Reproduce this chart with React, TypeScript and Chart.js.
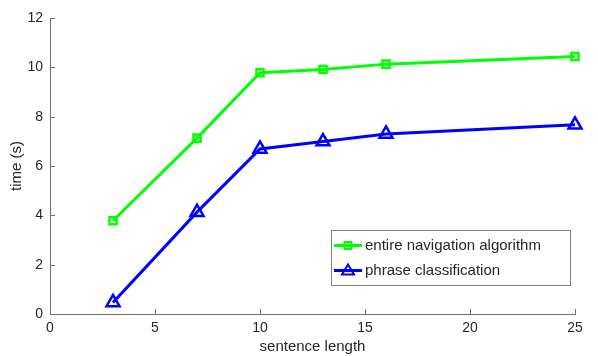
import React, { useEffect, useRef } from "react";
import { Chart, registerables } from "chart.js";

Chart.register(...registerables);

const xValues = [3, 7, 10, 13, 16, 25];
const navTimes = [3.78, 7.13, 9.78, 9.91, 10.13, 10.44];
const phraseTimes = [0.47, 4.13, 6.69, 6.99, 7.3, 7.67];
const seriesLabels = ["entire navigation algorithm", "phrase classification"];
const xTitle = "sentence length";
const yTitle = "time (s)";

const GREEN = "#00ff00";
const BLUE = "#0000ff";
const AXIS = "#707070";
const TEXT = "#262626";
const FONT = "'Liberation Sans', Arial, Helvetica, sans-serif";

const inwardTicks = {
  id: "inwardTicks",
  afterDraw(chart: any) {
    const ctx = chart.ctx;
    const xs = chart.scales.x;
    const ys = chart.scales.y;
    const area = chart.chartArea;
    ctx.save();
    ctx.strokeStyle = AXIS;
    ctx.lineWidth = 1;
    ctx.beginPath();
    xs.ticks.forEach((t: any) => {
      const px = Math.round(xs.getPixelForValue(t.value)) + 0.5;
      ctx.moveTo(px, area.bottom);
      ctx.lineTo(px, area.bottom - 5);
    });
    ys.ticks.forEach((t: any) => {
      const py = Math.round(ys.getPixelForValue(t.value)) + 0.5;
      ctx.moveTo(area.left, py);
      ctx.lineTo(area.left + 5, py);
    });
    ctx.stroke();
    ctx.restore();
  },
};

const customLegend = {
  id: "customLegend",
  afterDraw(chart: any) {
    const ctx = chart.ctx;
    const bx = 331, by = 230, bw = 239, bh = 55;
    ctx.save();
    ctx.fillStyle = "#ffffff";
    ctx.fillRect(bx, by, bw, bh);
    ctx.strokeStyle = "#808080";
    ctx.lineWidth = 1;
    ctx.strokeRect(bx + 0.5, by + 0.5, bw, bh);
    const rows = [
      { y: 245.5, color: GREEN, style: "rect", label: seriesLabels[0] },
      { y: 270.5, color: BLUE, style: "triangle", label: seriesLabels[1] },
    ];
    rows.forEach((r) => {
      ctx.strokeStyle = r.color;
      ctx.lineWidth = 3;
      ctx.beginPath();
      ctx.moveTo(334, r.y);
      ctx.lineTo(362, r.y);
      ctx.stroke();
      const cx = 348;
      ctx.lineWidth = 2;
      ctx.beginPath();
      if (r.style === "rect") {
        ctx.rect(cx - 3.5, r.y - 3.5, 7, 7);
      } else {
        ctx.moveTo(cx, r.y - 6);
        ctx.lineTo(cx + 6, r.y + 4);
        ctx.lineTo(cx - 6, r.y + 4);
        ctx.closePath();
      }
      ctx.stroke();
      ctx.fillStyle = TEXT;
      ctx.font = `15px ${FONT}`;
      ctx.textBaseline = "middle";
      ctx.textAlign = "left";
      ctx.fillText(r.label, 365, r.y);
    });
    ctx.restore();
  },
};

export default function App() {
  const ref = useRef<HTMLCanvasElement>(null);
  useEffect(() => {
    if (!ref.current) return;
    const chart = new Chart(ref.current, {
      type: "line",
      data: {
        datasets: [
          {
            label: seriesLabels[0],
            data: xValues.map((x, i) => ({ x, y: navTimes[i] })),
            borderColor: GREEN,
            backgroundColor: "transparent",
            borderWidth: 3,
            pointStyle: "rect",
            pointRadius: 5,
            pointBorderWidth: 2.5,
            pointBorderColor: GREEN,
            pointBackgroundColor: "transparent",
            clip: false as any,
          },
          {
            label: seriesLabels[1],
            data: xValues.map((x, i) => ({ x, y: phraseTimes[i] })),
            borderColor: BLUE,
            backgroundColor: "transparent",
            borderWidth: 3,
            pointStyle: "triangle",
            pointRadius: 7.5,
            pointBorderWidth: 2.5,
            pointBorderColor: BLUE,
            pointBackgroundColor: "transparent",
            clip: false as any,
          },
        ],
      },
      options: {
        responsive: false,
        animation: false,
        layout: { padding: { left: 0, top: 18, right: 23, bottom: 0 } },
        plugins: {
          legend: { display: false },
          tooltip: { enabled: false },
        },
        scales: {
          x: {
            type: "linear",
            min: 0,
            max: 25,
            afterFit: (s: any) => {
              s.height = 42;
            },
            ticks: {
              stepSize: 5,
              color: TEXT,
              font: { family: FONT, size: 14 },
              padding: 6,
              maxRotation: 0,
            },
            grid: { display: true, drawOnChartArea: false, drawTicks: false, color: "transparent" },
            border: { display: true, color: AXIS, width: 1 },
            title: {
              display: true,
              text: xTitle,
              color: TEXT,
              font: { family: FONT, size: 15 },
              padding: { top: 0, bottom: 0 },
            },
          },
          y: {
            type: "linear",
            min: 0,
            max: 12,
            afterFit: (s: any) => {
              s.width = 50;
            },
            ticks: {
              stepSize: 2,
              color: TEXT,
              font: { family: FONT, size: 14 },
              padding: 7,
            },
            grid: { display: true, drawOnChartArea: false, drawTicks: false, color: "transparent" },
            border: { display: true, color: AXIS, width: 1 },
            title: {
              display: true,
              text: yTitle,
              color: TEXT,
              font: { family: FONT, size: 15 },
              padding: { top: 8, bottom: 0 },
            },
          },
        },
      },
      plugins: [inwardTicks, customLegend],
    });
    return () => chart.destroy();
  }, []);
  return (
    <div style={{ position: "absolute", left: 0, top: 0, width: 598, height: 356, background: "#fff" }}>
      <canvas ref={ref} width={598} height={356} style={{ display: "block" }} />
    </div>
  );
}
